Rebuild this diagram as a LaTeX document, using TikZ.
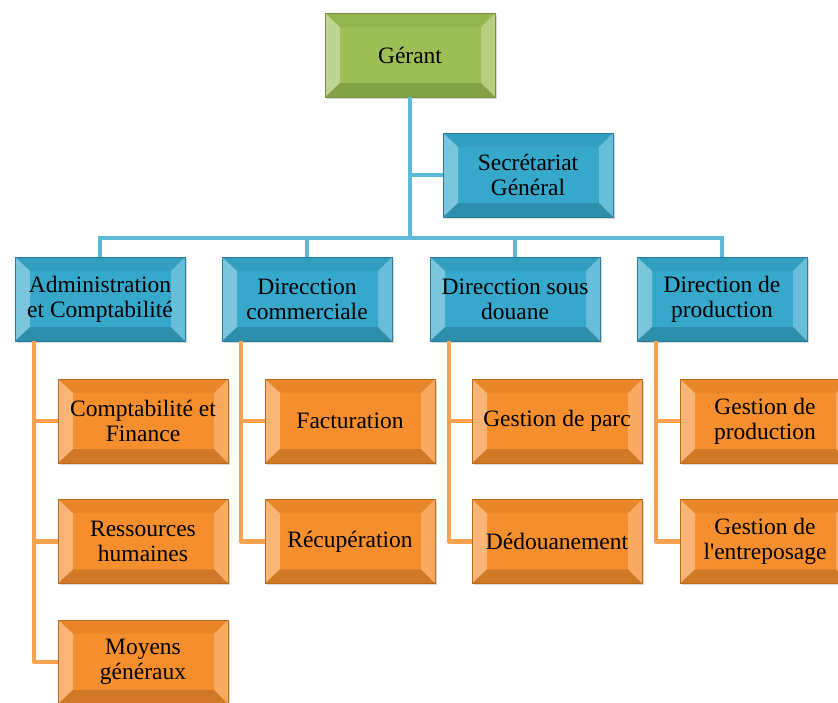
\documentclass[tikz,border=0pt]{standalone}
\usepackage{fontspec}
\setmainfont{Liberation Serif}
\usetikzlibrary{positioning}
\usetikzlibrary{shadows}

\definecolor{gerantgreen}{HTML}{9DBE55}
\definecolor{dirblue}{HTML}{36A8CB}
\definecolor{servorange}{HTML}{F58E2C}
\definecolor{linkblue}{HTML}{5DBAD6}
\definecolor{linkorange}{HTML}{F9A24F}

\tikzset{
  bevel/.style={path picture={
      \fill[white,opacity=0.35] (path picture bounding box.north west) -- ([xshift=15pt,yshift=-14pt]path picture bounding box.north west) -- ([xshift=15pt,yshift=14pt]path picture bounding box.south west) -- (path picture bounding box.south west) -- cycle;
      \fill[white,opacity=0.25] (path picture bounding box.north east) -- ([xshift=-14pt,yshift=-14pt]path picture bounding box.north east) -- ([xshift=-14pt,yshift=14pt]path picture bounding box.south east) -- (path picture bounding box.south east) -- cycle;
      \fill[black,opacity=0.05] (path picture bounding box.north west) -- (path picture bounding box.north east) -- ([xshift=-14pt,yshift=-14pt]path picture bounding box.north east) -- ([xshift=15pt,yshift=-14pt]path picture bounding box.north west) -- cycle;
      \fill[black,opacity=0.15] (path picture bounding box.south west) -- (path picture bounding box.south east) -- ([xshift=-14pt,yshift=14pt]path picture bounding box.south east) -- ([xshift=15pt,yshift=14pt]path picture bounding box.south west) -- cycle;
    }},
  unitbox/.style={rectangle, fill=#1, draw=#1!75!black, minimum width=170pt, minimum height=84pt,
    inner sep=1pt, align=center, font=\fontsize{23.5}{25}\selectfont, bevel,
    drop shadow={opacity=0.3, shadow xshift=2pt, shadow yshift=-2pt}},
  topbox/.style={unitbox=gerantgreen},
  dirbox/.style={unitbox=dirblue},
  servbox/.style={unitbox=servorange},
  bluelink/.style={linkblue, line width=4.5pt},
  orangelink/.style={linkorange, line width=4.5pt, line join=round},
}

\begin{document}
\begin{tikzpicture}[x=1pt,y=-1pt]
  \useasboundingbox (0,0) rectangle (838,702);
  \clip (0,0) rectangle (838,702);

  \coordinate (bus) at (0,238);

  \node[topbox] (ger) at (410,55) {Gérant};
  \node[dirbox] (sec) at (528,175) {Secrétariat\\Général};

  \node[dirbox] (adm) at (100,299) {Administration\\et Comptabilité};
  \node[dirbox] (com) at (307,299) {Direcction\\commerciale};
  \node[dirbox] (dou) at (515,299) {Direcction sous\\douane};
  \node[dirbox] (prod) at (722,299) {Direction de\\production};

  \node[servbox] (cf) at (143,421) {Comptabilité et\\Finance};
  \node[servbox, below=36pt of cf] (rh) {Ressources\\humaines};
  \node[servbox, below=36pt of rh] (mg) {Moyens\\généraux};

  \node[servbox] (fac) at (350,421) {Facturation};
  \node[servbox, below=36pt of fac] (rec) {Récupération};

  \node[servbox] (parc) at (557,421) {Gestion de parc};
  \node[servbox, below=36pt of parc] (ded) {Dédouanement};

  \node[servbox] (gp) at (765,421) {Gestion de\\production};
  \node[servbox, below=36pt of gp] (ge) {Gestion de\\l\textquotesingle entreposage};

  \draw[bluelink] (ger.south) -- (ger.south |- bus);
  \draw[bluelink] (ger.south |- sec.west) -- (sec.west);
  \draw[bluelink] (adm.north) -- (adm.north |- bus) -- (prod.north |- bus) -- (prod.north);
  \draw[bluelink] (com.north |- bus) -- (com.north);
  \draw[bluelink] (dou.north |- bus) -- (dou.north);

  \draw[orangelink] (adm.south west) ++(19,0) |- (mg.west);
  \draw[orangelink] (adm.south west) ++(19,0) |- (cf.west);
  \draw[orangelink] (adm.south west) ++(19,0) |- (rh.west);
  \draw[orangelink] (com.south west) ++(19,0) |- (rec.west);
  \draw[orangelink] (com.south west) ++(19,0) |- (fac.west);
  \draw[orangelink] (dou.south west) ++(19,0) |- (ded.west);
  \draw[orangelink] (dou.south west) ++(19,0) |- (parc.west);
  \draw[orangelink] (prod.south west) ++(19,0) |- (ge.west);
  \draw[orangelink] (prod.south west) ++(19,0) |- (gp.west);
\end{tikzpicture}
\end{document}
